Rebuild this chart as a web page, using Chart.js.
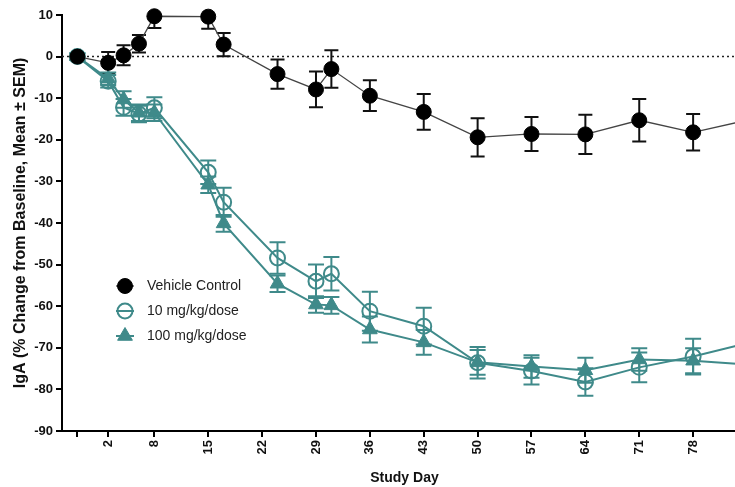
<!DOCTYPE html>
<html>
<head>
<meta charset="utf-8">
<script src="https://cdn.jsdelivr.net/npm/chart.js@4/dist/chart.umd.min.js"></script>
<style>
  html, body { margin: 0; padding: 0; background: #fff; overflow: hidden; width: 735px; height: 487px; }
  #wrap { width: 747px; height: 487px; }
</style>
</head>
<body>
<div id="wrap"><canvas id="chart" width="747" height="487"></canvas></div>
<script>
// --- Datos ---
const days = [-2, 2, 4, 6, 8, 15, 17, 24, 29, 31, 36, 43, 50, 57, 64, 71, 78, 85];
const vehicleMean = [0, -1.5, 0.3, 3.1, 9.7, 9.6, 2.9, -4.2, -7.9, -3.0, -9.4, -13.3, -19.4, -18.6, -18.7, -15.3, -18.2, -15.3];
const vehicleSem = [0, 2.6, 2.4, 2.1, 2.8, 2.9, 2.8, 3.5, 4.3, 4.5, 3.7, 4.3, 4.6, 4.1, 4.7, 5.1, 4.4, 4.5];
const dose10Mean = [0, -5.9, -12.2, -13.8, -12.3, -27.8, -35.0, -48.4, -54.0, -52.2, -61.2, -64.8, -73.6, -75.6, -78.2, -74.7, -72.1, -68.9];
const dose10Sem = [0.8, 1.5, 2, 2, 2.5, 2.8, 3.5, 3.8, 4, 4, 4.7, 4.4, 3.8, 3.2, 3.3, 3.6, 4.3, 4];
const dose100Mean = [0, -5.3, -10.3, -13.5, -13.5, -30.8, -40.1, -54.6, -59.6, -59.8, -65.6, -68.7, -73.5, -74.5, -75.4, -72.8, -73.1, -74.0];
const dose100Sem = [0.8, 1.5, 2, 2, 2, 2, 2, 2, 2, 2, 3.1, 3, 3, 2.7, 3, 2.7, 3, 3];
const xTicks = [-2, 2, 8, 15, 22, 29, 36, 43, 50, 57, 64, 71, 78, 85];
const labels = ["Vehicle Control", "10 mg/kg/dose", "100 mg/kg/dose"];

const teal = "#3f8a8a";
const font = "'Liberation Sans', Arial, sans-serif";

function pts(vals) {
  return days.map((d, i) => ({ x: d, y: vals[i] }));
}

// --- Barras de error (SEM) ---
const errorBars = {
  id: "errorBars",
  beforeDatasetsDraw(chart) {
    const { ctx, chartArea, scales: { y } } = chart;
    ctx.save();
    ctx.beginPath();
    ctx.rect(chartArea.left, chartArea.top, chartArea.right - chartArea.left, chartArea.bottom - chartArea.top);
    ctx.clip();
    // linea punteada en 0
    const y0 = y.getPixelForValue(0);
    ctx.setLineDash([2, 3]);
    ctx.strokeStyle = "#222";
    ctx.lineWidth = 1.5;
    ctx.beginPath();
    ctx.moveTo(chartArea.left, y0);
    ctx.lineTo(chartArea.right, y0);
    ctx.stroke();
    ctx.setLineDash([]);
    chart.data.datasets.forEach((ds, di) => {
      const meta = chart.getDatasetMeta(di);
      ctx.strokeStyle = ds.errColor;
      ctx.lineWidth = 2;
      meta.data.forEach((p, i) => {
        const m = ds.data[i].y, e = ds.sem[i];
        if (!e) return;
        const yt = y.getPixelForValue(m + e);
        const yb = y.getPixelForValue(m - e);
        const cw = ds.capHalf;
        ctx.beginPath();
        ctx.moveTo(p.x, yt); ctx.lineTo(p.x, yb);
        ctx.moveTo(p.x - cw, yt); ctx.lineTo(p.x + cw, yt);
        ctx.moveTo(p.x - cw, yb); ctx.lineTo(p.x + cw, yb);
        ctx.stroke();
      });
    });
    ctx.restore();
  }
};

// --- Leyenda dentro del area ---
const innerLegend = {
  id: "innerLegend",
  afterDraw(chart) {
    const { ctx, chartArea } = chart;
    const lx = chartArea.left + 63;
    const ly = chartArea.top + 271;
    const gap = 25;
    ctx.save();
    chart.data.datasets.forEach((ds, i) => {
      const cy = ly + i * gap;
      ctx.strokeStyle = ds.borderColor;
      ctx.lineWidth = ds.borderWidth;
      ctx.beginPath();
      ctx.moveTo(lx - 9, cy); ctx.lineTo(lx + 9, cy);
      ctx.stroke();
      const r = ds.pointRadius;
      ctx.beginPath();
      if (ds.pointStyle === "triangle") {
        ctx.moveTo(lx, cy - r);
        ctx.lineTo(lx + r * 0.87, cy + r * 0.5);
        ctx.lineTo(lx - r * 0.87, cy + r * 0.5);
        ctx.closePath();
      } else {
        ctx.arc(lx, cy, r, 0, Math.PI * 2);
      }
      if (ds.pointBackgroundColor !== "rgba(0,0,0,0)") {
        ctx.fillStyle = ds.pointBackgroundColor;
        ctx.fill();
      }
      ctx.strokeStyle = ds.pointBorderColor;
      ctx.lineWidth = ds.pointBorderWidth;
      ctx.stroke();
      ctx.fillStyle = "#222";
      ctx.font = "14px " + font;
      ctx.textBaseline = "middle";
      ctx.fillText(labels[i], lx + 22, cy);
    });
    ctx.restore();
  }
};

const ctx = document.getElementById("chart").getContext("2d");
new Chart(ctx, {
  type: "line",
  data: {
    datasets: [
      {
        label: labels[0],
        data: pts(vehicleMean),
        sem: vehicleSem,
        errColor: "#111",
        capHalf: 7,
        borderColor: "#444",
        borderWidth: 1.3,
        pointStyle: "circle",
        pointRadius: 7.5,
        pointBackgroundColor: "#000",
        pointBorderColor: "#000",
        pointBorderWidth: 1,
        clip: false
      },
      {
        label: labels[1],
        data: pts(dose10Mean),
        sem: dose10Sem,
        errColor: teal,
        capHalf: 8,
        borderColor: teal,
        borderWidth: 2,
        pointStyle: "circle",
        pointRadius: 7.5,
        pointBackgroundColor: "rgba(0,0,0,0)",
        pointBorderColor: teal,
        pointBorderWidth: 2,
        clip: false
      },
      {
        label: labels[2],
        data: pts(dose100Mean),
        sem: dose100Sem,
        errColor: teal,
        capHalf: 8,
        borderColor: teal,
        borderWidth: 2,
        pointStyle: "triangle",
        pointRadius: 8.5,
        pointBackgroundColor: teal,
        pointBorderColor: teal,
        pointBorderWidth: 1,
        clip: false
      }
    ]
  },
  options: {
    responsive: false,
    animation: false,
    layout: { autoPadding: false, padding: { top: 15, left: 0, right: 0, bottom: 0 } },
    plugins: { legend: { display: false }, tooltip: { enabled: false } },
    scales: {
      x: {
        type: "linear",
        min: -4,
        max: 85,
        afterBuildTicks: (axis) => { axis.ticks = xTicks.map(v => ({ value: v })); },
        afterFit: (s) => { s.height = 56; s.paddingLeft = 0; s.paddingRight = 0; },
        border: { display: true, color: "#000", width: 2 },
        grid: { drawOnChartArea: false, drawTicks: true, tickLength: 6, color: "#000", lineWidth: 2 },
        ticks: {
          minRotation: 90,
          maxRotation: 90,
          autoSkip: false,
          padding: 3,
          color: "#111",
          font: { family: font, size: 13, weight: "bold" },
          callback: (v) => (v === -2 ? "" : v)
        },
        title: {
          display: true,
          text: "Study Day",
          color: "#111",
          padding: { top: 0, bottom: 0.5 },
          font: { family: font, size: 14, weight: "bold" }
        }
      },
      y: {
        min: -90,
        max: 10,
        afterFit: (s) => { s.width = 62; s.paddingTop = 0; s.paddingBottom = 0; },
        border: { display: true, color: "#000", width: 2 },
        grid: { drawOnChartArea: false, drawTicks: true, tickLength: 6, color: "#000", lineWidth: 2 },
        ticks: {
          stepSize: 10,
          padding: 3,
          color: "#111",
          font: { family: font, size: 13, weight: "bold" }
        },
        title: {
          display: true,
          text: "IgA (% Change from Baseline, Mean ± SEM)",
          color: "#111",
          padding: { top: 11, bottom: 0 },
          font: { family: font, size: 16, weight: "bold" }
        }
      }
    }
  },
  plugins: [errorBars, innerLegend]
});
</script>
</body>
</html>
